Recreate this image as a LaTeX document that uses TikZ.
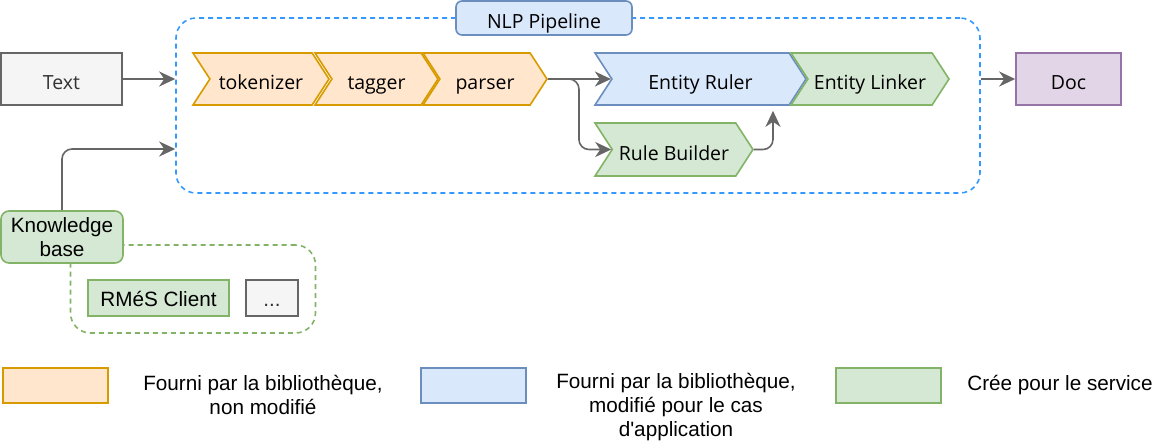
\documentclass[tikz,border=0pt]{standalone}
\usepackage{fontspec}
\setmainfont{Liberation Sans}
\newfontfamily\pipefont{Open Sans}
\usetikzlibrary{shapes.symbols,arrows.meta}

\definecolor{orfill}{HTML}{FFE6CC}
\definecolor{ordraw}{HTML}{D79B00}
\definecolor{blfill}{HTML}{DAE8FC}
\definecolor{bldraw}{HTML}{6C8EBF}
\definecolor{grfill}{HTML}{D5E8D4}
\definecolor{grdraw}{HTML}{82B366}
\definecolor{gyfill}{HTML}{F5F5F5}
\definecolor{gydraw}{HTML}{666666}
\definecolor{pufill}{HTML}{E1D5E7}
\definecolor{pudraw}{HTML}{9673A6}
\definecolor{pipeblue}{HTML}{3399FF}
\definecolor{txtgrey}{HTML}{333333}

\begin{document}
\begin{tikzpicture}[x=0.5pt, y=-0.5pt,
    box/.style={draw, line width=0.8pt, minimum height=26pt, inner sep=0pt,
      text height=10pt, text depth=0pt, font=\pipefont\fontsize{9.75}{12}\selectfont},
    chev/.style={box, signal, signal from=west, signal to=east, signal pointer angle=114,
      text height=10.5pt},
    lib/.style={fill=orfill, draw=ordraw},
    libmod/.style={fill=blfill, draw=bldraw},
    own/.style={fill=grfill, draw=grdraw},
    other/.style={fill=gyfill, draw=gydraw, text=txtgrey},
    group/.style={dashed, dash pattern=on 2.5pt off 2pt, line width=0.8pt, rounded corners=10pt},
    plain/.style={font=\fontsize{10.35}{12}\selectfont, align=center},
    flow/.style={draw=gydraw, line width=0.8pt, rounded corners=5pt,
      -{Stealth[length=8pt,width=7.5pt,inset=2.5pt]}},
  ]
  \useasboundingbox (0,0) rectangle (1175,440);

  % Groups
  \node[group, draw=pipeblue, minimum width=402pt, minimum height=87.5pt] at (578,105.5) (pipe) {};
  \node[group, draw=grdraw, minimum width=122.5pt, minimum height=44pt] at (193,289) (kbset) {};

  % Nodes
  \node[box, libmod, rounded corners=3pt, minimum width=88pt, minimum height=17pt] at (544,18) (title) {NLP Pipeline};
  \node[box, other, minimum width=60.5pt] at (61.5,79) (txt) {Text};
  \node[chev, lib, minimum width=68pt] at (261,79) (tok) {tokenizer};
  \node[chev, lib, minimum width=61.5pt] at (376.5,79) (tag) {tagger};
  \node[chev, lib, minimum width=62pt] at (485,79) (parser) {parser};
  \node[chev, libmod, minimum width=105.5pt] at (700.5,79) (er) {Entity Ruler};
  \node[chev, own, minimum width=79pt] at (870,79) (el) {Entity Linker};
  \node[chev, own, minimum width=79pt, minimum height=26.5pt] at (674,149.5) (rb) {Rule Builder};
  \node[box, fill=pufill, draw=pudraw, minimum width=52.5pt] at (1068.5,79) (doc) {Doc};

  \node[box, own, plain, text height=, text depth=, rounded corners=4pt, minimum width=61pt] at (62,237) (kb) {Knowledge\\base};
  \node[box, own, plain, text height=8.7pt, minimum width=70.5pt, minimum height=18pt] at (158.5,298) (rmes) {RMéS Client};
  \node[box, other, plain, text height=8.7pt, minimum width=26pt, minimum height=18pt] at (272,298) (more) {...};

  % Legend
  \node[box, lib, minimum width=52.5pt, minimum height=17.5pt] at (55.5,385.5) (leglib) {};
  \node[plain] at (263,395) (leglibtxt) {Fourni par la bibliothèque,\\non modifié};
  \node[box, libmod, minimum width=52.5pt, minimum height=17.5pt] at (473.5,385.5) (legmod) {};
  \node[plain] at (676,407) (legmodtxt) {Fourni par la bibliothèque,\\modifié pour le cas\\d\textquotesingle application};
  \node[box, own, minimum width=52.5pt, minimum height=17.5pt] at (888.5,385.5) (legown) {};
  \node[plain] at (1060,385) (legowntxt) {Crée pour le service};

  % Edges
  \draw[flow] (txt.east) -- (txt.east -| pipe.west);
  \draw[flow] (kb.north) |- ([yshift=-21.75pt]pipe.west);
  \draw[flow] (parser.east) -- (er.west);
  \draw[flow] (parser.east) -- ++(31,0) |- (rb.west);
  \draw[flow] (rb.east) -| ([xshift=36.25pt,yshift=-2.5pt]er.south);
  \draw[flow] (doc.west -| pipe.east) -- (doc.west);
\end{tikzpicture}
\end{document}
